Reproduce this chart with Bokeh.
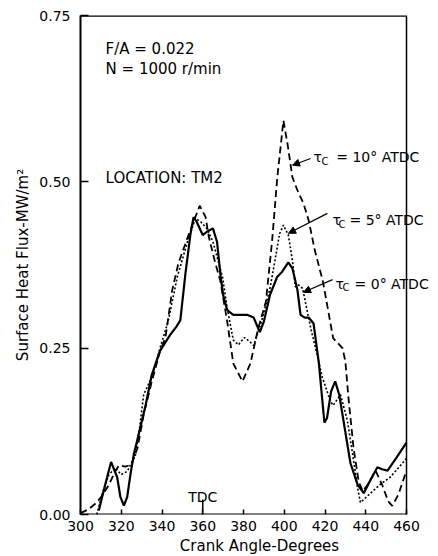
from bokeh.plotting import figure
from bokeh.models import Range1d, FixedTicker, Label, Arrow, NormalHead, PrintfTickFormatter, Title
from bokeh.embed import file_html
from bokeh.resources import INLINE

# ---- data ----
angle_0 = [309, 312.3, 315, 318, 319.6, 321.3, 322.9, 324.5, 326.2, 327.8, 332, 335, 339, 344, 347, 349,
           351.5, 354, 355.5, 357, 360, 362, 365, 367, 368.7, 370, 372, 375, 378.5, 382, 385, 388,
           390, 393, 396.5, 399, 402, 404, 406.5, 408, 410, 412, 414.4, 417, 419.7, 421, 423, 425,
           427, 428.6, 432.5, 436, 439, 442, 445.7, 448, 450.7, 455, 460]
flux_0 = [0.006, 0.047, 0.079, 0.056, 0.026, 0.0135, 0.026, 0.06, 0.091, 0.111, 0.165, 0.21, 0.246, 0.27, 0.282, 0.292,
          0.362, 0.422, 0.447, 0.44, 0.42, 0.425, 0.43, 0.41, 0.36, 0.33, 0.307, 0.30, 0.30, 0.30, 0.296, 0.274,
          0.29, 0.33, 0.357, 0.365, 0.379, 0.37, 0.337, 0.30, 0.296, 0.296, 0.287, 0.227, 0.138, 0.145, 0.185, 0.2,
          0.18, 0.15, 0.077, 0.045, 0.032, 0.05, 0.071, 0.068, 0.066, 0.085, 0.108]

angle_5 = [308, 311, 314, 317, 320, 323, 327, 329, 331, 334, 337, 339, 343, 347.5, 352.5, 356.4, 359, 362,
           365, 369.7, 372, 375, 377.5, 380.5, 383, 385, 389, 393, 395.7, 397.7, 399.6, 402, 404, 405.5,
           407, 409, 411, 413, 416, 418.7, 422.7, 424, 427.6, 431, 433.5, 436, 437.4, 442, 447, 452, 456, 460]
flux_5 = [0.0, 0.035, 0.06, 0.07, 0.06, 0.065, 0.09, 0.13, 0.18, 0.2, 0.225, 0.25, 0.29, 0.357, 0.41, 0.445, 0.44, 0.43,
          0.41, 0.357, 0.31, 0.262, 0.255, 0.266, 0.26, 0.254, 0.292, 0.34, 0.386, 0.422, 0.435, 0.42, 0.382, 0.342,
          0.345, 0.34, 0.31, 0.28, 0.242, 0.206, 0.17, 0.164, 0.18, 0.141, 0.092, 0.04, 0.018, 0.031, 0.045, 0.056, 0.07, 0.084]

angle_10 = [300, 304, 308, 311, 314, 317, 319, 322, 325, 328, 331, 335, 339, 341.7, 345, 348, 353, 358.5,
            361.4, 363, 366, 368.7, 372, 375, 379.5, 383.4, 387, 391, 394, 396.6, 399.6, 401.6, 404, 406.5,
            409.5, 412, 415, 419, 422.7, 424, 428.6, 430, 431.5, 434, 436.5, 438.5, 441, 444.8, 448, 451, 453, 456, 460]
flux_10 = [0.002, 0.008, 0.018, 0.03, 0.045, 0.065, 0.074, 0.072, 0.075, 0.1, 0.15, 0.2, 0.245, 0.266, 0.337, 0.377, 0.42, 0.464,
           0.447, 0.417, 0.38, 0.35, 0.29, 0.227, 0.2, 0.227, 0.277, 0.32, 0.41, 0.507, 0.592, 0.557, 0.507, 0.487,
           0.467, 0.442, 0.397, 0.35, 0.287, 0.265, 0.25, 0.23, 0.176, 0.1, 0.05, 0.035, 0.045, 0.066, 0.045, 0.02, 0.013, 0.03, 0.066]

x_ticks = [300, 320, 340, 360, 380, 400, 420, 440, 460]
y_ticks = [0.0, 0.25, 0.50, 0.75]
x_min, x_max = 300, 460
y_min, y_max = 0.0, 0.75
tdc_angle = 360

FONT = "DejaVu Sans"
LEFT, RIGHT_AXIS_PX, TOP, BOTTOM = 80, 326, 15, 42
W, H = 438, 556
# the frame extends to the right canvas edge so that the labels can overhang the box
frame_w = W - LEFT
x_view_max = x_min + frame_w * (x_max - x_min) / RIGHT_AXIS_PX

p = figure(width=W, height=H, output_backend="svg", toolbar_location=None,
           x_range=Range1d(x_min, x_view_max), y_range=Range1d(y_min, y_max),
           min_border_left=LEFT, min_border_right=0, min_border_top=TOP, min_border_bottom=BOTTOM)

p.grid.visible = False
p.outline_line_color = None
p.background_fill_color = "white"
p.border_fill_color = "white"

p.xaxis.ticker = FixedTicker(ticks=x_ticks)
p.yaxis.ticker = FixedTicker(ticks=y_ticks)
p.yaxis.formatter = PrintfTickFormatter(format="%.2f")
for ax in (p.xaxis, p.yaxis):
    ax.axis_line_color = "black"
    ax.axis_line_width = 2
    ax.major_tick_line_color = "black"
    ax.major_tick_line_width = 1.5
    ax.minor_tick_line_color = None
    ax.major_tick_out = 0
    ax.major_label_text_font = FONT
    ax.major_label_text_font_size = "14px"
    ax.major_label_text_color = "black"
    ax.axis_label_text_font = FONT
    ax.axis_label_text_font_size = "15px"
    ax.axis_label_text_font_style = "normal"
    ax.axis_label_text_color = "black"
p.xaxis.axis_line_color = None
p.xaxis.major_tick_in = 5
p.yaxis.major_tick_in = 8
p.xaxis.major_label_standoff = 6
p.yaxis.major_label_standoff = 10
p.yaxis.axis_label = "Surface Heat Flux-MW/m²"
p.yaxis.axis_label_standoff = 4

# x-axis title, centred under the 300-460 box (not the wider frame)
box_centre_px = LEFT + RIGHT_AXIS_PX / 2
p.add_layout(Title(text="Crank Angle-Degrees", align="center", offset=box_centre_px - (LEFT + frame_w / 2),
                   text_font=FONT, text_font_size="15px", text_font_style="normal", text_color="black",
                   standoff=2), "below")

# box: bottom axis line, right and top borders
p.segment(x0=[x_min, x_max, x_min], y0=[y_min, y_min, y_max],
          x1=[x_max, x_max, x_max], y1=[y_min, y_max, y_max],
          line_color="black", line_width=[2, 1.5, 2.4])

p.line(angle_0, flux_0, line_color="black", line_width=2.2)
p.line(angle_5, flux_5, line_color="black", line_width=1.6, line_dash="2 2")
p.line(angle_10, flux_10, line_color="black", line_width=1.8, line_dash="7 4")

# TDC marker
p.segment(x0=[tdc_angle], y0=[0], x1=[tdc_angle], y1=[0.0226], line_color="black", line_width=1.5)
p.add_layout(Label(x=tdc_angle, y=0.027, text="TDC", text_font=FONT, text_font_size="14px",
                   text_align="center", text_baseline="alphabetic", text_color="black"))

def txt(x, y, s, size="15px", align="left"):
    p.add_layout(Label(x=x, y=y, text=s, text_font=FONT, text_font_size=size,
                       text_align=align, text_baseline="alphabetic", text_color="black"))

txt(312.3, 0.699, "F/A = 0.022")
txt(312.3, 0.669, "N = 1000 r/min")
txt(312.3, 0.506, "LOCATION: TM2")

labels = [
    # tau x, baseline y, C x, C y, main x, text
    (414.4, 0.537, 418.3, 0.531, 425.5, "= 10° ATDC"),
    (423.7, 0.442, 426.6, 0.436, 432.0, "= 5° ATDC"),
    (425.2, 0.347, 428.6, 0.341, 434.5, "= 0° ATDC"),
]
for tx, ty, cx, cy, mx, s in labels:
    txt(tx, ty, "τ", size="14px")
    txt(cx, cy, "C", size="10px")
    txt(mx, ty, s, size="14px")

arrows = [
    (412.9, 0.535, 404.05, 0.525),
    (421.2, 0.4526, 402.1, 0.4226),
    (423.7, 0.353, 409.45, 0.334),
]
for x0, y0, x1, y1 in arrows:
    p.add_layout(Arrow(x_start=x0, y_start=y0, x_end=x1, y_end=y1, line_color="black", line_width=1.2,
                       end=NormalHead(size=7, fill_color="black", line_color="black")))

open("out.html", "w").write(file_html(p, INLINE))
